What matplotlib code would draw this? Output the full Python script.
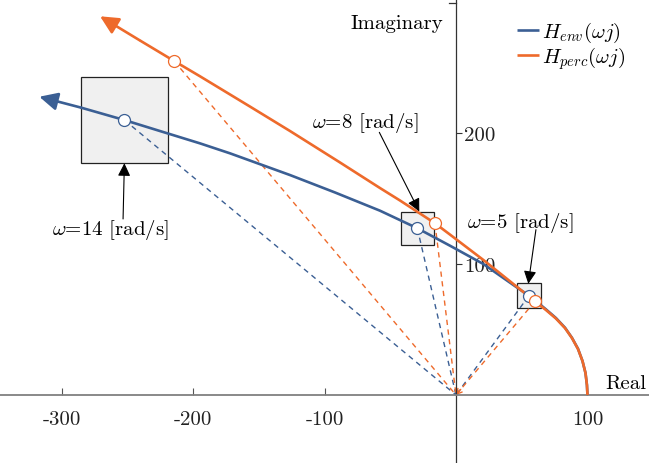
import matplotlib
matplotlib.use('Agg')
import matplotlib.pyplot as plt
from matplotlib.patches import Rectangle

plt.rcParams['font.family'] = 'cmr10'
plt.rcParams['mathtext.fontset'] = 'cm'
plt.rcParams['axes.unicode_minus'] = False

# ---------------- data ----------------
env_re = [100.0, 99.6, 98.5, 96.2, 92.8, 88.2, 82.9, 76.0, 68.4, 60.1, 55.5,
          46.2, 20.8, -4.6, -29.4, -57.8, -92.0, -126.2, -171.9, -194.7,
          -225.1, -252.2, -285.6, -316.9]
env_im = [0.0, 7.6, 16.8, 26.0, 35.3, 43.7, 51.4, 58.8, 65.4, 72.3, 75.8,
          82.2, 100.0, 114.0, 127.3, 140.7, 154.6, 167.9, 184.5, 192.1,
          201.5, 209.9, 219.5, 227.7]

perc_re = [100.0, 99.6, 98.5, 96.2, 92.8, 88.2, 82.9, 76.0, 68.4, 60.1,
           46.2, 20.8, -4.6, -16.0, -42.6, -57.8, -88.2, -126.2, -156.7,
           -194.7, -214.4, -240.3, -270.7]
perc_im = [0.0, 7.6, 16.8, 26.0, 35.1, 43.5, 51.1, 58.4, 64.9, 71.5,
           82.7, 103.1, 122.5, 131.1, 148.5, 158.0, 177.5, 201.5, 220.2,
           243.3, 255.0, 270.6, 289.1]

omega_marks = [5, 8, 14]
env_mark_re = [55.5, -29.4, -252.2]
env_mark_im = [75.8, 127.3, 209.9]
perc_mark_re = [60.1, -16.0, -214.4]
perc_mark_im = [71.5, 131.1, 255.0]
box_sizes = [18.7, 25.5, 66.0]

xtick_vals = [-300, -200, -100, 100]
xtick_labels = ['-300', '-200', '-100', '100']
ytick_vals = [100, 200]
ytick_labels = ['100', '200']

series_labels = [r'$H_{env}(\omega j)$', r'$H_{perc}(\omega j)$']

# ---------------- style ----------------
BLUE = '#3b5f94'
ORANGE = '#ee6a2b'
FS = 15

fig = plt.figure(figsize=(6.49, 4.64), dpi=100)
ax = fig.add_axes([0, 0, 1, 1])
ax.set_xlim(-346.8, 146.8)
ax.set_ylim(-51.9, 302.3)

# axes through origin
ax.spines['top'].set_visible(False)
ax.spines['left'].set_visible(False)
ax.spines['bottom'].set_position(('data', 0))
ax.spines['bottom'].set_color('#808080')
ax.spines['bottom'].set_linewidth(1.3)
ax.spines['right'].set_position(('data', 0))
ax.spines['right'].set_color('#333333')
ax.spines['right'].set_linewidth(0.9)
ax.yaxis.tick_right()
ax.set_xticks(xtick_vals)
ax.set_xticklabels(xtick_labels)
ax.set_yticks(ytick_vals)
ax.set_yticklabels(ytick_labels)
ax.tick_params(axis='x', direction='in', length=5, width=0.8, color='#555555',
               pad=11, labelsize=FS, labelcolor='#222222')
ax.tick_params(axis='y', direction='out', length=4, width=0.8, color='#333333',
               pad=2, labelsize=FS, labelcolor='#222222')
ax.plot([-5.5, 0], [299.5, 299.5], color='#333333', lw=0.9, clip_on=False)

ax.text(-9.9, 284, 'Imaginary', fontsize=FS, ha='right', va='center')
ax.text(113.8, 9.5, 'Real', fontsize=FS, ha='left', va='center')

# boxes around env markers
for cx, cy, s in zip(env_mark_re, env_mark_im, box_sizes):
    ax.add_patch(Rectangle((cx - s / 2, cy - s / 2), s, s, facecolor='#f0f0f0',
                           edgecolor='#222222', lw=0.9, zorder=1))

# dashed lines from origin
dash = (0, (3.8, 3.2))
for xs, ys, c in ((env_mark_re, env_mark_im, BLUE), (perc_mark_re, perc_mark_im, ORANGE)):
    for mx, my in zip(xs, ys):
        ax.plot([mx, 0], [my, 0], color=c, lw=1.0, linestyle=dash, zorder=2)
# small arrowhead at origin
ax.annotate('', xy=(0, 0), xytext=(perc_mark_re[0] * 0.06, perc_mark_im[0] * 0.06),
            arrowprops=dict(arrowstyle='->, head_length=0.35, head_width=0.2',
                            color=ORANGE, lw=1.0, shrinkA=0, shrinkB=0), zorder=2)

# curves
for re_, im_, c, lab in ((env_re, env_im, BLUE, series_labels[0]),
                         (perc_re, perc_im, ORANGE, series_labels[1])):
    ax.plot(re_[:-1], im_[:-1], color=c, lw=1.9, solid_capstyle='butt', zorder=3, label=lab)
    ax.annotate('', xy=(re_[-1], im_[-1]), xytext=(re_[-2], im_[-2]),
                arrowprops=dict(arrowstyle='-|>, head_length=0.55, head_width=0.27',
                                mutation_scale=20, color=c, lw=1.9,
                                shrinkA=0, shrinkB=0), zorder=3)

# markers
ax.plot(env_mark_re, env_mark_im, 'o', ms=8.6, mfc='white', mec=BLUE, mew=0.9, zorder=4)
ax.plot(perc_mark_re, perc_mark_im, 'o', ms=8.6, mfc='white', mec=ORANGE, mew=0.9, zorder=4)

# annotations
ann = [  # text pos, arrow start, arrow tip
    ((48.7, 131.8), (60.8, 126.2), (55.0, 84.9)),
    ((-69.2, 208.2), (-58.3, 200.5), (-27.9, 140.1)),
    ((-263.1, 126.9), (-253.2, 134.4), (-252.2, 176.9)),
]
for (tpos, a0, a1), w in zip(ann, omega_marks):
    ax.text(tpos[0], tpos[1], r'$\omega$=%d [rad/s]' % w, fontsize=FS,
            ha='center', va='center', zorder=6)
    ax.annotate('', xy=a1, xytext=a0,
                arrowprops=dict(arrowstyle='-|>, head_length=0.55, head_width=0.27',
                                mutation_scale=14, color='black', lw=0.8,
                                shrinkA=0, shrinkB=0), zorder=6)

ax.legend(loc='upper left', bbox_to_anchor=(0.797, 0.955), frameon=False,
          fontsize=15, handlelength=1.05, handletextpad=0.12, labelspacing=0.0,
          borderpad=0, borderaxespad=0)

fig.savefig('out.png', dpi=100)
